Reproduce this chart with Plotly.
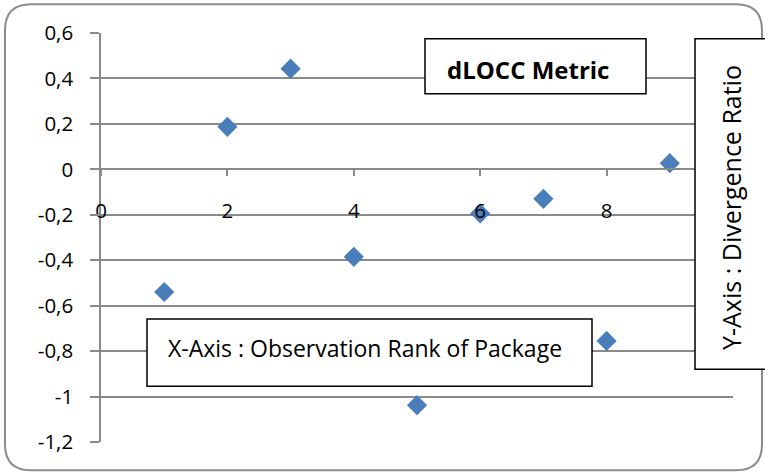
import plotly.graph_objects as go

# Observation rank of each package and its dLOCC divergence ratio
ranks = [1, 2, 3, 4, 5, 6, 7, 8, 9]
divergence = [-0.54, 0.187, 0.443, -0.385, -1.038, -0.194, -0.13, -0.755, 0.027]

x_ticks = [0, 2, 4, 6, 8]
x_tick_labels = ["0", "2", "4", "6", "8"]
y_ticks = [-1.2, -1.0, -0.8, -0.6, -0.4, -0.2, 0.0, 0.2, 0.4, 0.6]
y_tick_labels = ["-1,2", "-1", "-0,8", "-0,6", "-0,4", "-0,2", "0", "0,2", "0,4", "0,6"]

title_text = "dLOCC Metric"
x_caption = "X-Axis : Observation Rank of Package"
y_caption = "Y-Axis : Divergence Ratio"

W, H = 765, 472
L, R, T, B = 101, 733, 33.3, 441.7  # plot area in pixels
FONT = "Open Sans, Calibri, sans-serif"
GRID = "#8a8a8a"
X_RANGE = [0, 10]
Y_RANGE = [-1.2, 0.6]


def px(x):
    return (x - L) / (R - L)


def py(y):
    return (B - y) / (B - T)


def rounded_rect(x0, y0, x1, y1, r):
    pts = [
        ("M", [(x0 + r, y0)]),
        ("L", [(x1 - r, y0)]),
        ("Q", [(x1, y0), (x1, y0 + r)]),
        ("L", [(x1, y1 - r)]),
        ("Q", [(x1, y1), (x1 - r, y1)]),
        ("L", [(x0 + r, y1)]),
        ("Q", [(x0, y1), (x0, y1 - r)]),
        ("L", [(x0, y0 + r)]),
        ("Q", [(x0, y0), (x0 + r, y0)]),
    ]
    out = []
    for cmd, ps in pts:
        out.append(cmd + " " + " ".join(f"{px(a):.5f},{py(b):.5f}" for a, b in ps))
    return " ".join(out) + " Z"


fig = go.Figure(
    go.Scatter(
        x=ranks,
        y=divergence,
        mode="markers",
        marker=dict(symbol="diamond", size=15.5, color="#4a7ebb", line=dict(width=0)),
        showlegend=False,
        hoverinfo="x+y",
    )
)

zero_pos = (0 - Y_RANGE[0]) / (Y_RANGE[1] - Y_RANGE[0])

fig.update_xaxes(
    range=X_RANGE,
    tickvals=x_ticks,
    ticktext=x_tick_labels,
    anchor="free",
    position=zero_pos,
    showgrid=False,
    zeroline=False,
    showline=True,
    linecolor=GRID,
    linewidth=1.5,
    ticks="outside",
    ticklen=6,
    tickwidth=1.5,
    tickcolor=GRID,
    ticklabelstandoff=17,
    tickfont=dict(family=FONT, size=20.5, color="black"),
)

fig.update_yaxes(
    range=Y_RANGE,
    tickvals=y_ticks,
    ticktext=y_tick_labels,
    showgrid=True,
    gridcolor=GRID,
    gridwidth=1.5,
    zeroline=False,
    showline=True,
    linecolor=GRID,
    linewidth=1.5,
    ticks="outside",
    ticklen=9,
    tickwidth=1.5,
    tickcolor=GRID,
    ticklabelstandoff=13,
    tickfont=dict(family=FONT, size=20.5, color="black"),
)

shapes = [
    # chart border
    dict(type="path", xref="paper", yref="paper", path=rounded_rect(5, 4.5, 762, 470, 26),
         line=dict(color="#8c8c8c", width=2), fillcolor="rgba(0,0,0,0)", layer="above"),
    # title box
    dict(type="rect", xref="paper", yref="paper", x0=px(425), x1=px(646), y0=py(94), y1=py(39),
         line=dict(color="black", width=1.5), fillcolor="white", layer="above"),
    # x caption box
    dict(type="rect", xref="paper", yref="paper", x0=px(147), x1=px(592), y0=py(386), y1=py(319),
         line=dict(color="black", width=1.5), fillcolor="white", layer="above"),
    # y caption box
    dict(type="rect", xref="paper", yref="paper", x0=px(695), x1=px(780), y0=py(369), y1=py(39),
         line=dict(color="black", width=1.5), fillcolor="white", layer="above"),
]

annotations = [
    dict(text=f"<b>{title_text}</b>", xref="paper", yref="paper", x=px(528), y=py(70),
         xanchor="center", yanchor="middle", showarrow=False,
         font=dict(family=FONT, size=24, color="black")),
    dict(text=x_caption, xref="paper", yref="paper", x=px(166), y=py(348),
         xanchor="left", yanchor="middle", showarrow=False,
         font=dict(family=FONT, size=23, color="black")),
    dict(text=y_caption, xref="paper", yref="paper", x=px(731), y=py(208),
         xanchor="center", yanchor="middle", showarrow=False, textangle=-90,
         font=dict(family=FONT, size=25, color="black")),
]

fig.update_layout(
    width=W,
    height=H,
    margin=dict(l=L, r=W - R, t=T, b=H - B),
    paper_bgcolor="white",
    plot_bgcolor="white",
    shapes=shapes,
    annotations=annotations,
    font=dict(family=FONT),
)

fig.write_html("out.html")
